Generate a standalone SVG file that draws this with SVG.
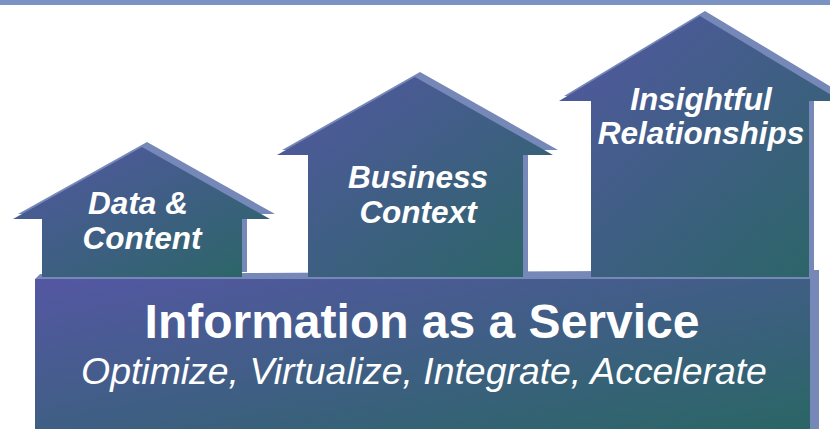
<svg xmlns="http://www.w3.org/2000/svg" width="830" height="429" viewBox="0 0 830 429">
<defs>
<linearGradient id="face" x1="0" y1="0" x2="1" y2="1">
<stop offset="0" stop-color="#5457a3"/>
<stop offset="1" stop-color="#2a6665"/>
</linearGradient>
<style>
.front{fill:url(#face)}
.side{fill:#7588b8}
.lbl{font-family:"Liberation Sans",Arial,Helvetica,sans-serif;font-weight:bold;font-style:italic;font-size:31.5px;fill:#ffffff;text-anchor:middle}
.title{font-family:"Liberation Sans",Arial,Helvetica,sans-serif;font-weight:bold;font-size:48px;fill:#ffffff;text-anchor:middle}
.sub{font-family:"Liberation Sans",Arial,Helvetica,sans-serif;font-style:italic;font-size:37.4px;fill:#ffffff;text-anchor:middle}
</style>
</defs>
<rect x="0" y="0" width="830" height="5" fill="#7b93c3"/>
<g id="base">
<polygon class="side" points="35,279 40,274 819,270 819,429 810,429 810,279"/>
<rect class="front" x="35" y="279" width="775" height="150"/>
<text class="title" x="422" y="338">Information as a Service</text>
<text class="sub" x="424" y="384">Optimize, Virtualize, Integrate, Accelerate</text>
</g>
<g id="house-data-content">
<polygon class="side" transform="translate(5,-5)" points="13,219 142,147 270,219 242,219 242,277 42,277 42,219"/>
<polygon class="front" points="13,219 142,147 270,219 242,219 242,277 42,277 42,219"/>
<text class="lbl" x="138" y="214">Data &amp;</text>
<text class="lbl" x="142" y="249">Content</text>
</g>
<g id="house-business-context">
<polygon class="side" transform="translate(5,-5)" points="277,155 415,77 553,155 523,155 523,277 308,277 308,155"/>
<polygon class="front" points="277,155 415,77 553,155 523,155 523,277 308,277 308,155"/>
<text class="lbl" x="418" y="188">Business</text>
<text class="lbl" x="418" y="223">Context</text>
</g>
<g id="house-insightful-relationships">
<polygon class="side" transform="translate(5,-5)" points="559,101 700,16 841,101 809,101 809,277 591,277 591,101"/>
<polygon class="front" points="559,101 700,16 841,101 809,101 809,277 591,277 591,101"/>
<text class="lbl" x="701" y="110">Insightful</text>
<text class="lbl" x="701" y="144">Relationships</text>
</g>
<g id="connectors"/>
</svg>
